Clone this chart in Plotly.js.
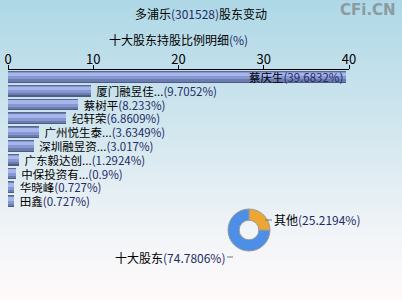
<!DOCTYPE html>
<html><head><meta charset="utf-8">
<script src="https://cdn.plot.ly/plotly-3.0.1.min.js"></script>
<style>
html,body{margin:0;padding:0;}
body{width:402px;height:300px;background:linear-gradient(to bottom,#aed8e6 0%,#d4e7ef 45%,#f3f5f8 80%,#fffafa 100%);}
#c{width:402px;height:300px;}
</style></head><body><div id="c"></div>
<script>
var holders = ["蔡庆生","厦门融昱佳...","蔡树平","纪轩荣","广州悦生泰...","深圳融昱资...","广东毅达创...","中保投资有...","华晓峰","田鑫"];
var ratios = [39.6832, 9.7052, 8.233, 6.8609, 3.6349, 3.017, 1.2924, 0.9, 0.727, 0.727];
var ratioLabels = ["39.6832","9.7052","8.233","6.8609","3.6349","3.017","1.2924","0.9","0.727","0.727"];
var pieLabels = ["其他","十大股东"];
var pieValues = [25.2194, 74.7806];
var pieValueLabels = ["25.2194","74.7806"];
var xTicks = [0,10,20,30,40];

var navy = "#1f2d66";
var font = "'Noto Sans CJK SC','Noto Sans',sans-serif";
var barText = holders.map(function(h,i){return (i===0?'':' ')+h+'<span style="color:'+navy+'">('+ratioLabels[i]+'%)</span>';});
var pos = ratios.map(function(v,i){return i===0?'inside':'outside';});

function layer(color, width, offset, extra){
  var t = {type:'bar', orientation:'h', x:ratios, y:holders, marker:{color:color, line:{width:0}},
    width:width, offset:offset, hoverinfo:'skip', showlegend:false};
  for (var k in extra) t[k]=extra[k];
  return t;
}
var traces = [
  layer('#4e5b84', 0.86, -0.43, {}),
  layer('#6c7caf', 0.7, -0.36, {}),
  layer('#8798d0', 0.5, -0.32, {}),
  layer('#a6b6ec', 0.26, -0.3, {}),
  layer('#5a6890', 0.07, -0.43, {}),
  layer('rgba(0,0,0,0)', 0.86, -0.43, {text:barText, textposition:pos, insidetextanchor:'end',
    constraintext:'none', cliponaxis:false, textfont:{family:font, size:11.5, color:'#000'}}),
  {type:'pie', labels:pieLabels, values:pieValues, sort:false, direction:'clockwise', rotation:0,
   hole:0.47, textinfo:'none', hoverinfo:'skip', showlegend:false,
   marker:{colors:['#eda534','#4d8fe6'], line:{color:'#9a9a9a', width:1}},
   domain:{x:[228/402,270/402], y:[49/300,91/300]}}
];

var layout = {
  width:402, height:300, margin:{l:0,r:0,t:0,b:0},
  paper_bgcolor:'rgba(0,0,0,0)', plot_bgcolor:'rgba(0,0,0,0)',
  barmode:'overlay', bargap:0,
  font:{family:font, size:12, color:'#000'},
  title:{text:'多浦乐<span style="color:'+navy+'">(301528)</span>股东变动', x:0.5, xanchor:'center', y:1-15/300, yanchor:'middle', font:{family:font,size:12,color:'#000'}},
  xaxis:{domain:[8/402,349/402], range:[0,40], side:'top', tickvals:xTicks, ticktext:xTicks.map(String),
    ticks:'outside', ticklen:4, tickcolor:'#000', ticklabelstandoff:-4, showgrid:false, zeroline:false, showline:true, linecolor:'#000', linewidth:1,
    tickfont:{family:font,size:13,color:'#000'}, fixedrange:true},
  yaxis:{domain:[92/300,230/300], autorange:'reversed', showticklabels:false, ticks:'', showgrid:false, zeroline:false, showline:false, fixedrange:true},
  annotations:[
    {xref:'paper',yref:'paper',x:178/402,y:1-39/300,xanchor:'center',yanchor:'middle',showarrow:false,
     text:'十大股东持股比例明细<span style="color:'+navy+'">(%)</span>', font:{family:font,size:12,color:'#000'}},
    {xref:'paper',yref:'paper',x:398/402,y:1-10/300,xanchor:'right',yanchor:'middle',showarrow:false,
     text:'<b>CFi.CN</b>', font:{family:"'DejaVu Sans',sans-serif",size:15,color:'#8d9aa2'}},
    {xref:'paper',yref:'paper',x:265/402,y:1-220/300,ax:7,ay:0,axref:'pixel',ayref:'pixel',showarrow:true,arrowhead:0,arrowwidth:1,arrowcolor:'#777',
     text:pieLabels[0]+'<span style="color:'+navy+'">('+pieValueLabels[0]+'%)</span>', xanchor:'left', yanchor:'middle', font:{family:font,size:12,color:'#000'}},
    {xref:'paper',yref:'paper',x:233/402,y:1-257/300,ax:-6,ay:0,axref:'pixel',ayref:'pixel',showarrow:true,arrowhead:0,arrowwidth:1,arrowcolor:'#777',
     text:pieLabels[1]+'<span style="color:'+navy+'">('+pieValueLabels[1]+'%)</span>', xanchor:'right', yanchor:'middle', font:{family:font,size:12,color:'#000'}}
  ]
};
Plotly.newPlot('c', traces, layout, {staticPlot:true, displayModeBar:false});
</script></body></html>
